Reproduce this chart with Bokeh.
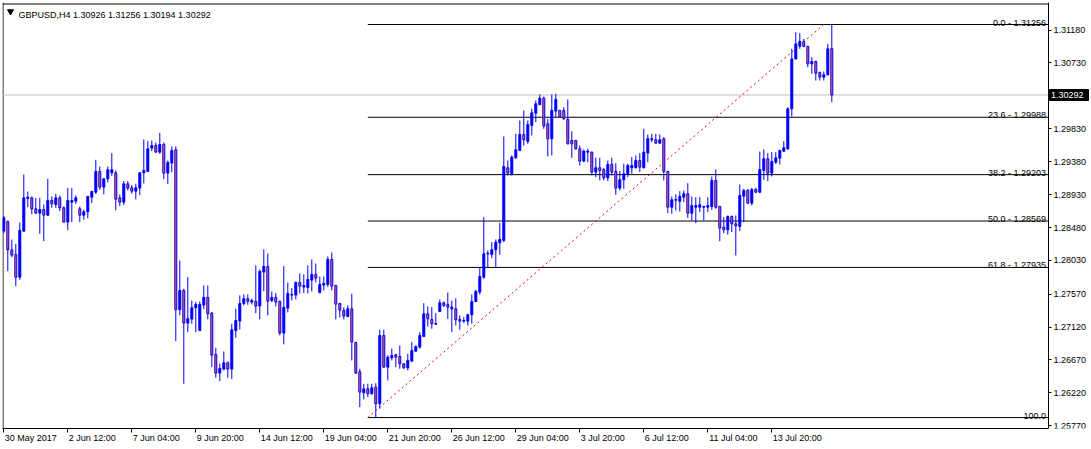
from bokeh.plotting import figure
from bokeh.models import ColumnDataSource, FixedTicker, PrintfTickFormatter, Range1d
from bokeh.embed import file_html
from bokeh.resources import INLINE
from bokeh.core.properties import value

symbol_title = "GBPUSD,H4  1.30926 1.31256 1.30194 1.30292"

opens = [1.28431, 1.28563, 1.28175, 1.28111, 1.27801, 1.28431, 1.28877, 1.28886, 1.28736, 1.28677,
         1.28727, 1.28649, 1.28850, 1.28795, 1.28886, 1.28750, 1.28554, 1.28827, 1.28841, 1.28736,
         1.28649, 1.28695, 1.28895, 1.28964, 1.29247, 1.29033, 1.29146, 1.29228, 1.29228, 1.28886,
         1.28827, 1.29078, 1.29023, 1.28977, 1.29019, 1.29228, 1.29247, 1.29566, 1.29602, 1.29511,
         1.29616, 1.29224, 1.29361, 1.29543, 1.27356, 1.27620, 1.27173, 1.27228, 1.27383, 1.27073,
         1.27420, 1.27525, 1.27310, 1.26745, 1.26490, 1.26545, 1.26631, 1.26545, 1.27072, 1.27201,
         1.27442, 1.27506, 1.27461, 1.27470, 1.27406, 1.27871, 1.27948, 1.27483, 1.27525, 1.27470,
         1.27037, 1.27379, 1.27556, 1.27556, 1.27729, 1.27666, 1.27661, 1.27761, 1.27839, 1.27593,
         1.27693, 1.27702, 1.28044, 1.27688, 1.27442, 1.27347, 1.27264, 1.27369, 1.26909, 1.26507,
         1.26221, 1.26275, 1.26207, 1.26298, 1.26070, 1.27004, 1.26571, 1.26699, 1.26740, 1.26717,
         1.26617, 1.26562, 1.26654, 1.26790, 1.26845, 1.26991, 1.27301, 1.27223, 1.27159, 1.27333,
         1.27451, 1.27428, 1.27369, 1.27369, 1.27223, 1.27200, 1.27200, 1.27287, 1.27469, 1.27597,
         1.27802, 1.28121, 1.28112, 1.28176, 1.28271, 1.28304, 1.29297, 1.29215, 1.29434, 1.29534,
         1.29753, 1.29657, 1.29876, 1.30044, 1.30163, 1.30249, 1.29899, 1.29694, 1.30072, 1.30081,
         1.30081, 1.29958, 1.29671, 1.29671, 1.29557, 1.29388, 1.29511, 1.29511, 1.29238, 1.29297,
         1.29274, 1.29160, 1.29343, 1.29247, 1.29019, 1.29133, 1.29215, 1.29297, 1.29297, 1.29397,
         1.29297, 1.29498, 1.29680, 1.29680, 1.29634, 1.29694, 1.29247, 1.28758, 1.28854, 1.28840,
         1.28895, 1.28941, 1.28676, 1.28758, 1.28758, 1.28758, 1.28758, 1.28768, 1.29123, 1.28768,
         1.28485, 1.28449, 1.28631, 1.28531, 1.28495, 1.28909, 1.28987, 1.28813, 1.29000, 1.28964,
         1.29260, 1.29420, 1.29224, 1.29374, 1.29429, 1.29524, 1.29556, 1.30103, 1.30786, 1.30959,
         1.31023, 1.30955, 1.30718, 1.30750, 1.30599, 1.30536, 1.30568, 1.30926]

highs = [1.28640, 1.28576, 1.28316, 1.28257, 1.28549, 1.29205, 1.28973, 1.28905, 1.28886, 1.28886,
         1.28795, 1.29146, 1.28905, 1.28941, 1.28918, 1.28768, 1.29023, 1.29023, 1.28918, 1.28768,
         1.28722, 1.28914, 1.28982, 1.29406, 1.29315, 1.29155, 1.29315, 1.29497, 1.29260, 1.28932,
         1.29115, 1.29115, 1.29064, 1.29078, 1.29238, 1.29684, 1.29661, 1.29670, 1.29643, 1.29775,
         1.29643, 1.29397, 1.29589, 1.29589, 1.28030, 1.27643, 1.27802, 1.27483, 1.27461, 1.27470,
         1.27688, 1.27688, 1.27324, 1.26836, 1.26618, 1.26786, 1.26649, 1.27164, 1.27369, 1.27552,
         1.27565, 1.27565, 1.27506, 1.27962, 1.27907, 1.28180, 1.28126, 1.27606, 1.27584, 1.27483,
         1.27953, 1.27729, 1.27652, 1.27743, 1.27852, 1.27839, 1.27962, 1.28044, 1.27989, 1.27811,
         1.27811, 1.28085, 1.28139, 1.27697, 1.27451, 1.27388, 1.27415, 1.27574, 1.26918, 1.26549,
         1.26344, 1.26344, 1.26344, 1.26353, 1.27082, 1.27082, 1.26731, 1.26827, 1.26754, 1.26868,
         1.26626, 1.26754, 1.26913, 1.26868, 1.27050, 1.27446, 1.27401, 1.27392, 1.27310, 1.27497,
         1.27469, 1.27592, 1.27483, 1.27515, 1.27278, 1.27255, 1.27301, 1.27565, 1.27629, 1.27939,
         1.28622, 1.28166, 1.28280, 1.28317, 1.28545, 1.29725, 1.29397, 1.29466, 1.29762, 1.29944,
         1.30081, 1.29944, 1.30104, 1.30218, 1.30299, 1.30272, 1.29967, 1.30299, 1.30309, 1.30090,
         1.30126, 1.30231, 1.29798, 1.29680, 1.29602, 1.29548, 1.29557, 1.29520, 1.29434, 1.29434,
         1.29297, 1.29397, 1.29434, 1.29361, 1.29252, 1.29352, 1.29352, 1.29443, 1.29466, 1.29498,
         1.29830, 1.29753, 1.29762, 1.29762, 1.29753, 1.29716, 1.29256, 1.28905, 1.28932, 1.28977,
         1.28986, 1.29086, 1.28905, 1.28895, 1.28895, 1.28777, 1.28895, 1.29178, 1.29274, 1.28777,
         1.28622, 1.28645, 1.28645, 1.28645, 1.29069, 1.29009, 1.29009, 1.29023, 1.29023, 1.29520,
         1.29547, 1.29497, 1.29511, 1.29511, 1.29543, 1.29661, 1.30126, 1.30923, 1.31151, 1.31137,
         1.31060, 1.30969, 1.30809, 1.30763, 1.30613, 1.30613, 1.30991, 1.31256]

lows = [1.28403, 1.27883, 1.28075, 1.27678, 1.27764, 1.28417, 1.28759, 1.28663, 1.28663, 1.28394,
        1.28294, 1.28636, 1.28750, 1.28750, 1.28704, 1.28549, 1.28444, 1.28554, 1.28804, 1.28554,
        1.28586, 1.28608, 1.28814, 1.28941, 1.28996, 1.28932, 1.29096, 1.29187, 1.28718, 1.28773,
        1.28786, 1.28987, 1.28941, 1.28864, 1.28923, 1.29083, 1.29238, 1.29525, 1.29502, 1.29488,
        1.29142, 1.29074, 1.29238, 1.26927, 1.27278, 1.26344, 1.27050, 1.27164, 1.27050, 1.27064,
        1.27365, 1.27224, 1.26572, 1.26426, 1.26380, 1.26527, 1.26426, 1.26408, 1.26973, 1.27087,
        1.27415, 1.27424, 1.27429, 1.27310, 1.27224, 1.27611, 1.27278, 1.27461, 1.27401, 1.27005,
        1.26882, 1.27319, 1.27483, 1.27497, 1.27579, 1.27584, 1.27579, 1.27606, 1.27729, 1.27579,
        1.27620, 1.27666, 1.27620, 1.27224, 1.27251, 1.27224, 1.27256, 1.26663, 1.26480, 1.26025,
        1.26130, 1.26161, 1.26198, 1.25882, 1.26002, 1.26562, 1.26389, 1.26663, 1.26571, 1.26549,
        1.26549, 1.26526, 1.26640, 1.26777, 1.26822, 1.26982, 1.27127, 1.27096, 1.27150, 1.27324,
        1.27392, 1.27232, 1.27050, 1.27141, 1.27082, 1.27177, 1.27141, 1.27164, 1.27460, 1.27565,
        1.27779, 1.27939, 1.28062, 1.27930, 1.28107, 1.28281, 1.29192, 1.29192, 1.29420, 1.29525,
        1.29602, 1.29625, 1.29739, 1.29921, 1.30149, 1.29830, 1.29452, 1.29466, 1.29981, 1.29981,
        1.29953, 1.29616, 1.29434, 1.29543, 1.29329, 1.29374, 1.29374, 1.29192, 1.29170, 1.29124,
        1.29124, 1.29115, 1.29192, 1.28928, 1.28987, 1.29010, 1.29170, 1.29215, 1.29288, 1.29238,
        1.29288, 1.29374, 1.29648, 1.29625, 1.29625, 1.29124, 1.28677, 1.28668, 1.28713, 1.28699,
        1.28827, 1.28612, 1.28576, 1.28540, 1.28690, 1.28576, 1.28690, 1.28722, 1.28736, 1.28294,
        1.28403, 1.28381, 1.28417, 1.28098, 1.28431, 1.28554, 1.28804, 1.28781, 1.28950, 1.28950,
        1.29132, 1.29114, 1.29178, 1.29351, 1.29342, 1.29515, 1.29543, 1.29998, 1.30777, 1.30923,
        1.30946, 1.30672, 1.30581, 1.30490, 1.30490, 1.30490, 1.30558, 1.30194]

closes = [1.28613, 1.28175, 1.28102, 1.27801, 1.28440, 1.28886, 1.28895, 1.28736, 1.28677, 1.28727,
          1.28649, 1.28850, 1.28804, 1.28886, 1.28750, 1.28554, 1.28850, 1.28850, 1.28886, 1.28649,
          1.28695, 1.28905, 1.28973, 1.29247, 1.29033, 1.29146, 1.29270, 1.29270, 1.28868, 1.28827,
          1.29078, 1.29019, 1.28977, 1.29023, 1.29228, 1.29260, 1.29556, 1.29602, 1.29511, 1.29616,
          1.29224, 1.29370, 1.29534, 1.27356, 1.27620, 1.27173, 1.27233, 1.27383, 1.27429, 1.27429,
          1.27525, 1.27301, 1.26736, 1.26490, 1.26554, 1.26631, 1.26545, 1.27081, 1.27210, 1.27442,
          1.27506, 1.27470, 1.27483, 1.27406, 1.27880, 1.27948, 1.27474, 1.27525, 1.27461, 1.27037,
          1.27388, 1.27579, 1.27565, 1.27729, 1.27679, 1.27688, 1.27770, 1.27839, 1.27788, 1.27702,
          1.27716, 1.28044, 1.27679, 1.27433, 1.27351, 1.27269, 1.27369, 1.26913, 1.26489, 1.26230,
          1.26275, 1.26207, 1.26289, 1.26070, 1.27004, 1.26571, 1.26708, 1.26731, 1.26708, 1.26617,
          1.26562, 1.26663, 1.26799, 1.26854, 1.27004, 1.27301, 1.27232, 1.27164, 1.27168, 1.27451,
          1.27415, 1.27392, 1.27392, 1.27219, 1.27200, 1.27209, 1.27287, 1.27469, 1.27606, 1.27811,
          1.28121, 1.28130, 1.28176, 1.28280, 1.28317, 1.29315, 1.29224, 1.29443, 1.29543, 1.29753,
          1.29680, 1.29889, 1.30049, 1.30172, 1.30249, 1.29867, 1.29694, 1.30081, 1.30231, 1.29990,
          1.29967, 1.29625, 1.29625, 1.29557, 1.29388, 1.29525, 1.29525, 1.29238, 1.29297, 1.29261,
          1.29160, 1.29343, 1.29238, 1.29019, 1.29133, 1.29215, 1.29329, 1.29329, 1.29397, 1.29306,
          1.29511, 1.29694, 1.29694, 1.29634, 1.29680, 1.29247, 1.28759, 1.28859, 1.28863, 1.28904,
          1.28941, 1.28676, 1.28781, 1.28781, 1.28791, 1.28768, 1.28781, 1.29123, 1.28758, 1.28472,
          1.28449, 1.28631, 1.28531, 1.28504, 1.28918, 1.28987, 1.28813, 1.29000, 1.28964, 1.29274,
          1.29420, 1.29224, 1.29383, 1.29433, 1.29534, 1.29570, 1.30103, 1.30786, 1.30991, 1.31023,
          1.30955, 1.30718, 1.30750, 1.30590, 1.30536, 1.30568, 1.30923, 1.30292]

x_label_bars = [0, 16, 32, 48, 64, 80, 96, 112, 128, 144, 160, 176, 192]
x_labels = ["30 May 2017", "2 Jun 12:00", "7 Jun 04:00", "9 Jun 20:00", "14 Jun 12:00",
            "19 Jun 04:00", "21 Jun 20:00", "26 Jun 12:00", "29 Jun 04:00", "3 Jul 20:00",
            "6 Jul 12:00", "11 Jul 04:00", "13 Jul 20:00"]
y_ticks = [1.31180, 1.30730, 1.29830, 1.29380, 1.28930, 1.28480, 1.28030, 1.27570,
           1.27120, 1.26670, 1.26220, 1.25770]

last_price = 1.30292
fib_levels = [0.0, 23.6, 38.2, 50.0, 61.8, 100.0]
fib_high = 1.31256
fib_low = 1.25882
fib_start_bar = 91
fib_end_bar = 205

# ---------------------------------------------------------------
FONT = "Liberation Sans"
FS = "9px"
BLUE = "#0000FF"
BEAR_FILL = "#F0643C"

W, H = 1091, 449
LEFT, TOP, BOTTOM = 2, 2, 21
CHART_W = 1046           # width of the candle area, the price scale sits to its right
FW, FH = W - LEFT, H - TOP - BOTTOM
BAR_PX = 4.0             # MT4 zoom: 4 px per bar
PX_PER_PRICE = 7314.0    # vertical scale of the screenshot

n = len(opens)
x_lo = -0.325
x_hi = x_lo + FW / BAR_PX
axis_x = x_lo + CHART_W / BAR_PX
y_hi = fib_high + 22.0 / PX_PER_PRICE
y_lo = y_hi - FH / PX_PER_PRICE
px_x = 1.0 / BAR_PX
px_y = 1.0 / PX_PER_PRICE

p = figure(width=W, height=H, output_backend="svg", toolbar_location=None,
           x_range=Range1d(x_lo, x_hi), y_range=Range1d(y_lo, y_hi),
           y_axis_location="right",
           min_border_left=LEFT, min_border_top=TOP, min_border_right=0, min_border_bottom=BOTTOM)
p.xgrid.visible = False
p.ygrid.visible = False
p.outline_line_color = None
p.background_fill_color = "white"
p.border_fill_color = "white"

up = [i for i in range(n) if closes[i] >= opens[i]]
dn = [i for i in range(n) if closes[i] < opens[i]]

wick_src = ColumnDataSource(dict(x=list(range(n)), low=lows, high=highs))
up_src = ColumnDataSource(dict(x=up, top=[closes[i] for i in up], bottom=[opens[i] for i in up]))
dn_src = ColumnDataSource(dict(x=dn, top=[opens[i] for i in dn], bottom=[closes[i] for i in dn]))

# chart frame (left and top edges; right = price scale line, bottom = time scale line)
p.segment(x0=[x_lo + 0.5 * px_x, x_lo], y0=[y_lo, y_hi - 1.5 * px_y],
          x1=[x_lo + 0.5 * px_x, axis_x], y1=[y_hi, y_hi - 1.5 * px_y],
          line_color="black", line_width=1)

# current price line
p.segment(x0=[x_lo], y0=[last_price], x1=[axis_x], y1=[last_price],
          line_color="#C0C0C0", line_width=1)

# fibonacci retracement
fib_prices = [fib_high - (fib_high - fib_low) * lv / 100.0 for lv in fib_levels]
fib_texts = ["%.1f" % lv if lv == 100.0 else "%.1f - %.5f" % (lv, pr)
             for lv, pr in zip(fib_levels, fib_prices)]

p.segment(x0=[fib_start_bar] * len(fib_prices), y0=fib_prices,
          x1=[axis_x] * len(fib_prices), y1=fib_prices, line_color="black", line_width=1)
p.line([fib_start_bar, fib_end_bar], [fib_low, fib_high], line_color="#FF0000",
       line_width=1, line_dash="2 3")

# candles
p.segment(x0="x", y0="low", x1="x", y1="high", source=wick_src, line_color=BLUE, line_width=1)
p.vbar(x="x", top="top", bottom="bottom", width=0.5, source=up_src,
       fill_color=BLUE, line_color=BLUE, line_width=1)
p.vbar(x="x", top="top", bottom="bottom", width=0.5, source=dn_src,
       fill_color=BEAR_FILL, line_color=BLUE, line_width=1)

p.text(x=[axis_x - 2.5 * px_x] * len(fib_prices), y=fib_prices, text=fib_texts,
       text_align="right", text_baseline="alphabetic", y_offset=-2,
       text_font=value(FONT), text_font_size=FS, text_color="black")

# title
p.scatter(x=[x_lo + 2.0], y=[y_hi - 9.0 * px_y], marker="inverted_triangle", size=6,
          fill_color="black", line_color="black")
p.text(x=[x_lo + 4.0], y=[y_hi - 12.0 * px_y], text=[symbol_title], text_align="left",
       text_baseline="alphabetic", text_font=value(FONT), text_font_size=FS, text_color="black")

# current price marker on the price scale
box_w_px, box_h_px = 39.0, 11.0
p.rect(x=[axis_x + (1.0 + box_w_px / 2.0) * px_x], y=[last_price],
       width=box_w_px, height=box_h_px, width_units="screen", height_units="screen",
       fill_color="black", line_color="black")
p.text(x=[axis_x + 2.5 * px_x], y=[last_price], text=["%.5f" % last_price],
       text_align="left", text_baseline="middle", text_font=value(FONT), text_font_size=FS,
       text_color="white")

# price scale (right)
p.yaxis.fixed_location = axis_x
p.yaxis.ticker = FixedTicker(ticks=y_ticks)
p.yaxis.formatter = PrintfTickFormatter(format="%.5f")
p.yaxis.major_tick_out = 3
p.yaxis.major_tick_in = 0
p.yaxis.minor_tick_line_color = None
p.yaxis.axis_line_color = "black"
p.yaxis.major_tick_line_color = "black"
p.yaxis.major_label_text_font = FONT
p.yaxis.major_label_text_font_size = FS
p.yaxis.major_label_text_color = "black"
p.yaxis.major_label_standoff = 2

# time scale: tick marks at the bars (minor ticks), labels start at each tick
ARIAL = {" ": 278, ":": 278, "J": 500, "u": 556, "n": 556, "l": 222, "M": 833, "a": 556, "y": 500}


def text_px(s):
    return sum(ARIAL.get(ch, 556) for ch in s) * 9 / 1000.0


label_centres = [round(b + (text_px(t) / 2.0 + 1.0) / BAR_PX, 3) for b, t in zip(x_label_bars, x_labels)]
p.xaxis.bounds = (x_lo, axis_x)
p.xaxis.ticker = FixedTicker(ticks=label_centres, minor_ticks=x_label_bars)
p.xaxis.major_label_overrides = {c: t for c, t in zip(label_centres, x_labels)}
p.xaxis.major_tick_line_color = None
p.xaxis.major_tick_out = 4
p.xaxis.major_tick_in = 0
p.xaxis.minor_tick_line_color = "black"
p.xaxis.minor_tick_out = 4
p.xaxis.minor_tick_in = 0
p.xaxis.axis_line_color = "black"
p.xaxis.major_label_text_font = FONT
p.xaxis.major_label_text_font_size = FS
p.xaxis.major_label_text_color = "black"
p.xaxis.major_label_standoff = 0

open("out.html", "w").write(file_html(p, INLINE))
